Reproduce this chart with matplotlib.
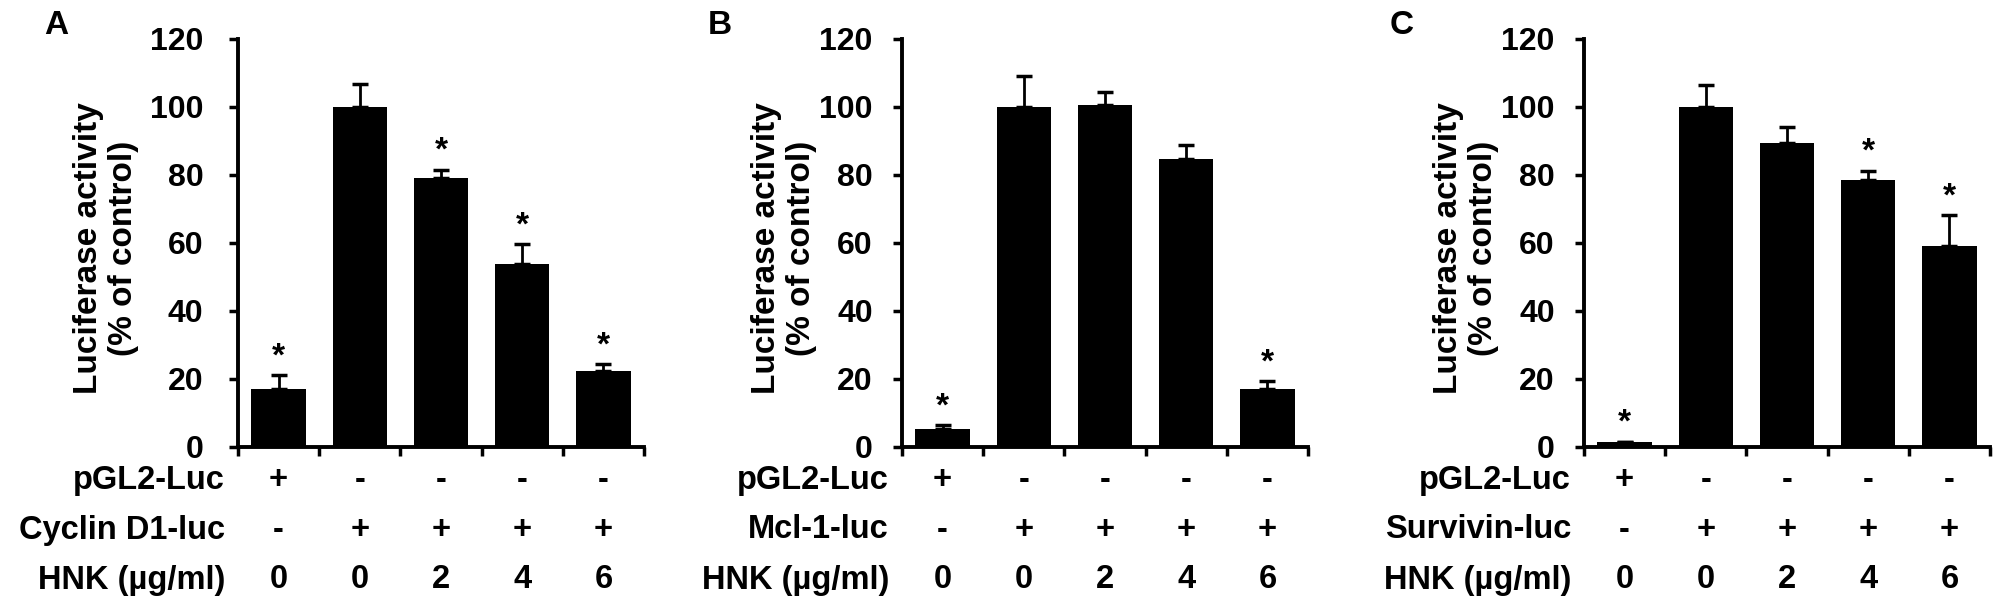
import matplotlib
matplotlib.use("Agg")
import matplotlib.pyplot as plt
import matplotlib.transforms as mtransforms
import numpy as np

plt.rcParams["font.family"] = ["Liberation Sans", "DejaVu Sans"]
plt.rcParams["font.weight"] = "bold"

# values (% of control)
panel_letters = ["A", "B", "C"]
reporters = ["Cyclin D1-luc", "Mcl-1-luc", "Survivin-luc"]

cyclin_vals = [17.1, 100.0, 79.2, 53.9, 22.3]
cyclin_err = [4.1, 6.7, 2.4, 5.8, 2.0]
cyclin_star = [True, False, True, True, True]

mcl1_vals = [5.3, 100.0, 100.7, 84.7, 17.1]
mcl1_err = [1.1, 9.0, 3.7, 4.1, 2.3]
mcl1_star = [True, False, False, False, True]

survivin_vals = [1.4, 100.0, 89.4, 78.6, 59.0]
survivin_err = [0.2, 6.4, 4.6, 2.7, 9.2]
survivin_star = [True, False, False, True, True]

pgl2_row = ["+", "-", "-", "-", "-"]
reporter_row = ["-", "+", "+", "+", "+"]
hnk_row = ["0", "0", "2", "4", "6"]

yticks = [0, 20, 40, 60, 80, 100, 120]

panels = [
    (cyclin_vals, cyclin_err, cyclin_star),
    (mcl1_vals, mcl1_err, mcl1_star),
    (survivin_vals, survivin_err, survivin_star),
]

W, H = 2008, 614
fig = plt.figure(figsize=(W / 100, H / 100), dpi=100)

axis_left_px = [238, 902, 1584]
axis_w_px = 406
axis_top_px, axis_bottom_px = 39, 447
# panel A sits a little wider from its labels than B and C
ylabel_off_px = [-132, -118, -118]
tick_pad = [18.5, 14.5, 14.5]

fs = 23.5
for i, (vals, errs, stars) in enumerate(panels):
    left = axis_left_px[i] / W
    bottom = 1 - axis_bottom_px / H
    height = (axis_bottom_px - axis_top_px) / H
    ax = fig.add_axes([left, bottom, axis_w_px / W, height])

    x = np.arange(len(vals))
    ax.bar(x, vals, width=0.67, color="black", zorder=2)
    ax.errorbar(x, vals, yerr=[np.zeros(len(errs)), errs], fmt="none",
                ecolor="black", elinewidth=2, capsize=5.5, capthick=2.5, zorder=1)
    for xi, v, e, s in zip(x, vals, errs, stars):
        if s:
            ax.annotate("*", (xi, v + e), xytext=(0, 13), textcoords="offset points",
                        ha="center", va="center", fontsize=24, fontweight="bold")

    ax.set_xlim(-0.5, len(vals) - 0.5)
    ax.set_ylim(0, 120)
    ax.set_yticks(yticks)
    ax.set_yticklabels([str(t) for t in yticks], fontsize=23, fontweight="bold")
    ax.set_xticks(np.arange(len(vals) + 1) - 0.5)
    ax.set_xticklabels([])
    for side in ["top", "right"]:
        ax.spines[side].set_visible(False)
    for side in ["left", "bottom"]:
        ax.spines[side].set_linewidth(2.8)
    ax.tick_params(axis="y", direction="out", length=6.5, width=2.5, pad=tick_pad[i])
    ax.tick_params(axis="x", direction="out", length=6.5, width=2.5)

    ax.text(ylabel_off_px[i] / axis_w_px, 0.488, "Luciferase activity\n(% of control)",
            transform=ax.transAxes, rotation=90, ha="center", va="center",
            multialignment="center", fontsize=24, fontweight="bold", linespacing=1.2)

    ax.text(-182 / axis_w_px, 1 + 14 / (axis_bottom_px - axis_top_px), panel_letters[i],
            transform=ax.transAxes, ha="center", va="center", fontsize=24,
            fontweight="bold")

    # treatment table below the axis
    trans = mtransforms.blended_transform_factory(ax.transData, fig.transFigure)
    rows = [("pGL2-Luc", pgl2_row, 480), (reporters[i], reporter_row, 530),
            ("HNK (\u00b5g/ml)", hnk_row, 580)]
    for label, entries, ypx in rows:
        yf = 1 - ypx / H
        fig.text(left - 13 / W, yf, label, ha="right", va="center",
                 fontsize=fs, fontweight="bold")
        for xi, e in zip(x, entries):
            ax.text(xi, yf, e, transform=trans, ha="center", va="center",
                    fontsize=fs, fontweight="bold", clip_on=False)

fig.savefig("out.png", dpi=100)
